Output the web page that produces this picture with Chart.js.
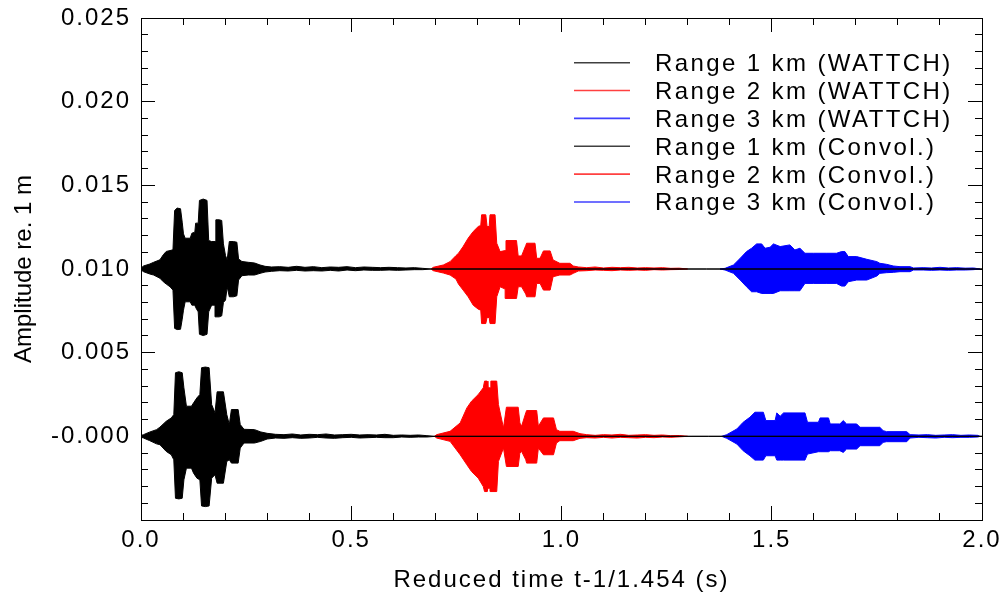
<!DOCTYPE html>
<html>
<head>
<meta charset="utf-8">
<title>Amplitude vs reduced time</title>
<script src="https://cdn.jsdelivr.net/npm/chart.js@4/dist/chart.umd.min.js"></script>
<style>
  html, body { margin: 0; padding: 0; background: #ffffff; }
  canvas { display: block; }
</style>
</head>
<body>
<canvas id="chart" width="1007" height="600"></canvas>
<script>
// ---------- axis ticks ----------
const xTickValues = [0, 0.5, 1.0, 1.5, 2.0];
const xTickLabels = ['0.0', '0.5', '1.0', '1.5', '2.0'];
const yTickValues = [0, 0.005, 0.010, 0.015, 0.020, 0.025];
const yTickLabels = ['-0.000', '0.005', '0.010', '0.015', '0.020', '0.025'];

// ---------- series ----------
const seriesLabels = [
  'Range 1 km (WATTCH)', 'Range 2 km (WATTCH)', 'Range 3 km (WATTCH)',
  'Range 1 km (Convol.)', 'Range 2 km (Convol.)', 'Range 3 km (Convol.)'
];
const seriesColors = ['#000000', '#ff0000', '#0000ff', '#000000', '#ff0000', '#0000ff'];
// WATTCH traces are shifted up by 0.010 so both sets can be compared
const seriesBase = [0.010, 0.010, 0.010, 0.000, 0.000, 0.000];

// Envelope of each trace: sample times (s), upper and lower amplitude (units of 1e-3 m)
const timeR1W = [0.000,0.006,0.021,0.030,0.045,0.053,0.060,0.069,0.076,0.080,
  0.086,0.094,0.098,0.101,0.105,0.117,0.121,0.128,0.130,0.136,
  0.139,0.148,0.157,0.161,0.168,0.176,0.178,0.186,0.192,0.196,
  0.201,0.205,0.210,0.220,0.228,0.232,0.240,0.255,0.270,0.283,
  0.295,0.31,0.33,0.35,0.37,0.39,0.41,0.43,0.45,0.47,
  0.49,0.51,0.53,0.55,0.57,0.59,0.61,0.63,0.65,0.67,
  0.69,2.0];
const upperR1W = [0.05,0.18,0.30,0.40,0.55,0.85,1.05,1.10,1.15,3.50,
  3.64,3.60,2.80,2.10,1.84,1.84,2.14,2.20,2.74,2.74,
  4.10,4.18,4.10,1.70,1.64,1.64,2.94,2.94,2.90,1.50,
  0.80,0.54,1.64,1.64,1.60,0.60,0.45,0.40,0.36,0.24,
  0.16,0.12,0.14,0.10,0.16,0.10,0.14,0.08,0.12,0.10,
  0.14,0.08,0.12,0.10,0.08,0.10,0.08,0.06,0.08,0.04,
  0.00,0.00];
const lowerR1W = [0.05,0.16,0.30,0.36,0.55,0.76,0.90,1.06,1.26,3.55,
  3.62,3.60,3.00,2.46,1.96,1.96,2.16,2.16,2.30,2.56,
  3.90,3.98,3.90,2.56,2.16,2.16,2.86,2.86,2.80,2.00,
  1.86,1.06,1.66,1.66,1.60,0.66,0.40,0.36,0.36,0.26,
  0.18,0.14,0.10,0.12,0.08,0.12,0.10,0.12,0.08,0.12,
  0.06,0.10,0.06,0.08,0.08,0.06,0.08,0.06,0.04,0.04,
  0.00,0.00];

const timeR2W = [0.690,0.695,0.719,0.735,0.749,0.755,0.766,0.778,0.790,0.802,
  0.808,0.810,0.820,0.823,0.828,0.830,0.842,0.846,0.854,0.866,
  0.868,0.893,0.897,0.905,0.915,0.917,0.937,0.941,0.949,0.957,
  0.973,0.980,0.996,1.020,1.028,1.040,1.06,1.08,1.10,1.12,
  1.14,1.16,1.18,1.20,1.22,1.24,1.26,1.28,1.30];
const upperR2W = [0.00,0.10,0.24,0.44,0.80,0.94,1.34,1.84,2.24,2.54,
  2.60,3.24,3.24,2.54,2.54,3.24,3.24,1.54,1.04,1.10,
  1.70,1.70,0.78,0.78,1.40,1.54,1.54,0.64,0.64,1.08,
  1.08,0.54,0.34,0.34,0.18,0.12,0.08,0.12,0.06,0.10,
  0.08,0.10,0.06,0.08,0.06,0.08,0.04,0.05,0.00];
const lowerR2W = [0.00,0.10,0.24,0.36,0.60,0.90,1.26,1.66,2.16,2.40,
  2.46,3.26,3.26,2.90,2.90,3.26,3.26,1.66,1.06,1.20,
  1.76,1.76,1.06,1.06,1.50,1.66,1.66,0.86,0.86,1.26,
  1.26,0.46,0.36,0.36,0.26,0.12,0.10,0.06,0.08,0.10,
  0.06,0.08,0.06,0.08,0.04,0.06,0.04,0.03,0.00];

const timeR3W = [1.377,1.389,1.409,1.425,1.440,1.452,1.464,1.476,1.484,1.496,
  1.504,1.520,1.543,1.555,1.567,1.579,1.599,1.631,1.654,1.666,
  1.674,1.682,1.702,1.726,1.750,1.757,1.773,1.789,1.805,1.829,
  1.837,1.86,1.88,1.90,1.92,1.94,1.96,1.98,1.995];
const upperR3W = [0.00,0.04,0.24,0.64,1.04,1.24,1.50,1.50,1.24,1.30,
  1.50,1.34,1.44,1.14,1.24,0.94,0.94,0.94,0.94,1.04,
  1.04,0.74,0.74,0.58,0.44,0.34,0.28,0.18,0.14,0.14,
  0.06,0.08,0.06,0.10,0.06,0.08,0.05,0.06,0.00];
const lowerR3W = [0.00,0.06,0.26,0.66,1.06,1.36,1.36,1.46,1.46,1.46,
  1.46,1.30,1.30,1.30,1.30,0.86,0.86,0.86,0.86,1.02,
  1.02,0.76,0.66,0.66,0.42,0.26,0.22,0.20,0.16,0.16,
  0.06,0.06,0.08,0.06,0.08,0.06,0.06,0.04,0.00];

const timeR1C = [0.000,0.006,0.020,0.037,0.045,0.060,0.072,0.078,0.082,0.090,
  0.098,0.102,0.108,0.120,0.125,0.133,0.140,0.144,0.153,0.162,
  0.168,0.176,0.181,0.196,0.204,0.210,0.215,0.231,0.236,0.245,
  0.270,0.285,0.300,0.32,0.34,0.36,0.38,0.40,0.42,0.44,
  0.46,0.48,0.50,0.52,0.54,0.56,0.58,0.60,0.62,0.64,
  0.66,0.68,0.70,2.0];
const upperR1C = [0.05,0.10,0.25,0.40,0.55,0.90,1.10,1.30,3.80,3.86,
  3.80,2.90,1.80,1.80,2.00,2.30,2.50,4.10,4.14,4.10,
  1.90,1.40,2.66,2.66,1.30,0.70,1.60,1.60,0.70,0.42,
  0.40,0.26,0.18,0.12,0.10,0.14,0.08,0.12,0.10,0.14,
  0.08,0.10,0.12,0.08,0.10,0.08,0.12,0.06,0.08,0.06,
  0.08,0.04,0.00,0.00];
const lowerR1C = [0.05,0.10,0.25,0.45,0.50,0.90,1.10,1.40,3.70,3.74,
  3.70,2.60,1.90,1.90,2.20,2.50,2.60,4.16,4.20,4.16,
  2.50,2.30,2.80,2.80,1.50,1.40,1.60,1.60,0.70,0.40,
  0.40,0.30,0.16,0.10,0.12,0.08,0.12,0.10,0.06,0.10,
  0.12,0.08,0.06,0.10,0.08,0.06,0.08,0.08,0.04,0.06,
  0.04,0.04,0.00,0.00];

const timeR2C = [0.698,0.703,0.735,0.759,0.775,0.786,0.802,0.814,0.817,0.823,
  0.825,0.830,0.832,0.846,0.850,0.862,0.869,0.897,0.901,0.905,
  0.915,0.917,0.941,0.945,0.957,0.981,0.988,0.996,1.028,1.044,
  1.06,1.08,1.10,1.12,1.14,1.16,1.18,1.20,1.22,1.24,
  1.26,1.28,1.30];
const upperR2C = [0.00,0.10,0.30,0.80,1.70,2.10,2.50,2.90,3.30,3.30,
  2.90,2.90,3.30,3.30,1.90,0.50,1.74,1.74,0.80,0.60,
  1.40,1.54,1.54,0.60,1.10,1.10,0.40,0.30,0.30,0.16,
  0.10,0.06,0.10,0.08,0.12,0.06,0.08,0.10,0.06,0.08,
  0.04,0.05,0.00];
const lowerR2C = [0.00,0.10,0.30,1.10,1.70,2.10,2.50,3.00,3.30,3.30,
  3.10,3.10,3.30,3.30,1.50,0.70,1.80,1.80,1.00,0.90,
  1.40,1.60,1.60,0.70,1.10,1.10,0.40,0.26,0.26,0.12,
  0.08,0.10,0.06,0.10,0.06,0.08,0.10,0.06,0.08,0.04,
  0.06,0.03,0.00];

const timeR3C = [1.381,1.393,1.417,1.432,1.448,1.460,1.480,1.486,1.508,1.512,
  1.520,1.528,1.579,1.585,1.611,1.615,1.635,1.639,1.662,1.670,
  1.678,1.702,1.710,1.757,1.765,1.773,1.821,1.829,1.85,1.87,
  1.89,1.91,1.93,1.95,1.97,1.99,1.995];
const upperR3C = [0.00,0.10,0.44,0.84,1.14,1.44,1.44,0.94,0.94,1.40,
  1.20,1.40,1.40,0.84,0.84,1.10,1.10,0.74,0.74,0.94,
  0.74,0.74,0.54,0.54,0.34,0.28,0.28,0.10,0.08,0.10,
  0.06,0.08,0.10,0.06,0.08,0.06,0.00];
const lowerR3C = [0.00,0.12,0.46,0.86,1.16,1.42,1.42,1.16,1.16,1.42,
  1.42,1.42,1.42,1.06,0.92,0.92,0.92,0.86,0.86,0.96,
  0.76,0.76,0.56,0.56,0.36,0.32,0.32,0.10,0.06,0.08,
  0.10,0.06,0.08,0.06,0.06,0.04,0.00];

const AMP_UNIT = 1e-3;
const FONT_FAMILY = "'Liberation Sans', Arial, Helvetica, sans-serif";

// Closed outline of a trace: along the upper envelope, then back along the lower one
function envelope(times, upper, lower, base) {
  const top = times.map((t, i) => ({ x: t, y: base + upper[i] * AMP_UNIT }));
  const bottom = times.map((t, i) => ({ x: t, y: base - lower[i] * AMP_UNIT })).reverse();
  return top.concat(bottom);
}

const traces = [
  [timeR1W, upperR1W, lowerR1W],
  [timeR2W, upperR2W, lowerR2W],
  [timeR3W, upperR3W, lowerR3W],
  [timeR1C, upperR1C, lowerR1C],
  [timeR2C, upperR2C, lowerR2C],
  [timeR3C, upperR3C, lowerR3C]
];

const datasets = traces.map((tr, i) => ({
  label: seriesLabels[i],
  data: envelope(tr[0], tr[1], tr[2], seriesBase[i]),
  borderColor: seriesColors[i],
  backgroundColor: seriesColors[i],
  borderWidth: 1,
  fill: 'shape',
  pointRadius: 0,
  tension: 0,
  xAxisID: 'x',
  yAxisID: 'y'
}));

const tickFont = { family: FONT_FAMILY, size: 24 };

// Legend drawn inside the plot frame, top right
const insetLegend = {
  id: 'insetLegend',
  afterDraw(chart) {
    const ctx = chart.ctx;
    const area = chart.chartArea;
    const lineX0 = area.right - 408, lineX1 = area.right - 352, textX = area.right - 327;
    const y0 = area.top + 44.7, step = 27.85;
    ctx.save();
    ctx.font = '24px ' + FONT_FAMILY;
    ctx.letterSpacing = '2.4px';
    ctx.textBaseline = 'alphabetic';
    ctx.textAlign = 'left';
    chart.data.datasets.forEach((ds, i) => {
      const y = y0 + i * step;
      ctx.globalAlpha = 0.75;
      ctx.strokeStyle = ds.borderColor;
      ctx.lineWidth = 1.6;
      ctx.beginPath();
      ctx.moveTo(lineX0, y);
      ctx.lineTo(lineX1, y);
      ctx.stroke();
      ctx.globalAlpha = 1;
      ctx.fillStyle = '#000';
      ctx.fillText(ds.label, textX, y + 8.5);
    });
    ctx.restore();
  }
};

// Wide letter spacing for the axis and legend text
const textSpacing = {
  id: 'textSpacing',
  beforeDraw(chart) { chart.ctx.letterSpacing = '2px'; }
};

function minorAxis(position, min, max, step, isX) {
  return {
    type: 'linear', position, weight: 0, min, max,
    ticks: { stepSize: step, display: false, autoSkip: false },
    grid: { drawOnChartArea: false, drawTicks: true, tickLength: -7, tickColor: '#000', tickWidth: 1 },
    border: { display: false },
    afterFit(s) {
      if (isX) s.height = 0; else s.width = 0;
      s.paddingLeft = s.paddingRight = s.paddingTop = s.paddingBottom = 0;
    }
  };
}

function majorFrameAxis(position, min, max, values, isX) {
  return {
    type: 'linear', position, weight: 1, min, max,
    afterBuildTicks(s) { s.ticks = values.map(v => ({ value: v })); },
    ticks: { display: false, autoSkip: false },
    grid: { drawOnChartArea: false, drawTicks: true, tickLength: -14, tickColor: '#000', tickWidth: 1 },
    border: { display: true, color: '#000', width: 1 },
    afterFit(s) {
      if (isX) s.height = 0; else s.width = 0;
      s.paddingLeft = s.paddingRight = s.paddingTop = s.paddingBottom = 0;
    }
  };
}

new Chart(document.getElementById('chart'), {
  type: 'line',
  data: { datasets },
  plugins: [textSpacing, insetLegend],
  options: {
    responsive: false,
    devicePixelRatio: 1,
    animation: false,
    events: [],
    layout: { padding: { top: 18, right: 25, bottom: 0, left: 0 } },
    plugins: { legend: { display: false }, tooltip: { enabled: false } },
    scales: {
      x: {
        type: 'linear', position: 'bottom', weight: 1, min: 0, max: 2,
        afterBuildTicks(s) { s.ticks = xTickValues.map(v => ({ value: v })); },
        ticks: {
          callback: (v, i) => xTickLabels[i],
          font: tickFont, color: '#000', padding: 20, autoSkip: false, maxRotation: 0
        },
        grid: { drawOnChartArea: false, drawTicks: true, tickLength: -14, tickColor: '#000', tickWidth: 1 },
        border: { display: true, color: '#000', width: 1 },
        title: {
          display: true, text: 'Reduced time t-1/1.454 (s)',
          font: tickFont, color: '#000', padding: { top: 0, bottom: 5 }
        },
        afterFit(s) {
          s.height = 80;
          s.paddingLeft = s.paddingRight = 0;
        }
      },
      xMinor: minorAxis('bottom', 0, 2, 0.1, true),
      xTop: majorFrameAxis('top', 0, 2, xTickValues, true),
      xTopMinor: minorAxis('top', 0, 2, 0.1, true),
      y: {
        type: 'linear', position: 'left', weight: 1, min: -0.005, max: 0.025,
        afterBuildTicks(s) { s.ticks = yTickValues.map(v => ({ value: v })); },
        ticks: {
          callback: (v, i) => yTickLabels[i],
          font: tickFont, color: '#000', padding: 24, autoSkip: false
        },
        grid: { drawOnChartArea: false, drawTicks: true, tickLength: -14, tickColor: '#000', tickWidth: 1 },
        border: { display: true, color: '#000', width: 1 },
        title: {
          display: true, text: 'Amplitude re. 1 m',
          font: tickFont, color: '#000', padding: { top: 10, bottom: 0 }
        },
        afterFit(s) {
          s.width = 141;
          s.paddingTop = s.paddingBottom = 0;
          if (!s._plainTitle) {
            // the axis title keeps normal letter spacing
            const drawTitle = s.drawTitle;
            s.drawTitle = function () {
              const c = this.ctx;
              const spacing = c.letterSpacing;
              c.letterSpacing = '0px';
              drawTitle.call(this);
              c.letterSpacing = spacing;
            };
            s._plainTitle = true;
          }
        }
      },
      yMinor: minorAxis('left', -0.005, 0.025, 0.001, false),
      yRight: majorFrameAxis('right', -0.005, 0.025, [-0.005].concat(yTickValues), false),
      yRightMinor: minorAxis('right', -0.005, 0.025, 0.001, false)
    }
  }
});
</script>
</body>
</html>
